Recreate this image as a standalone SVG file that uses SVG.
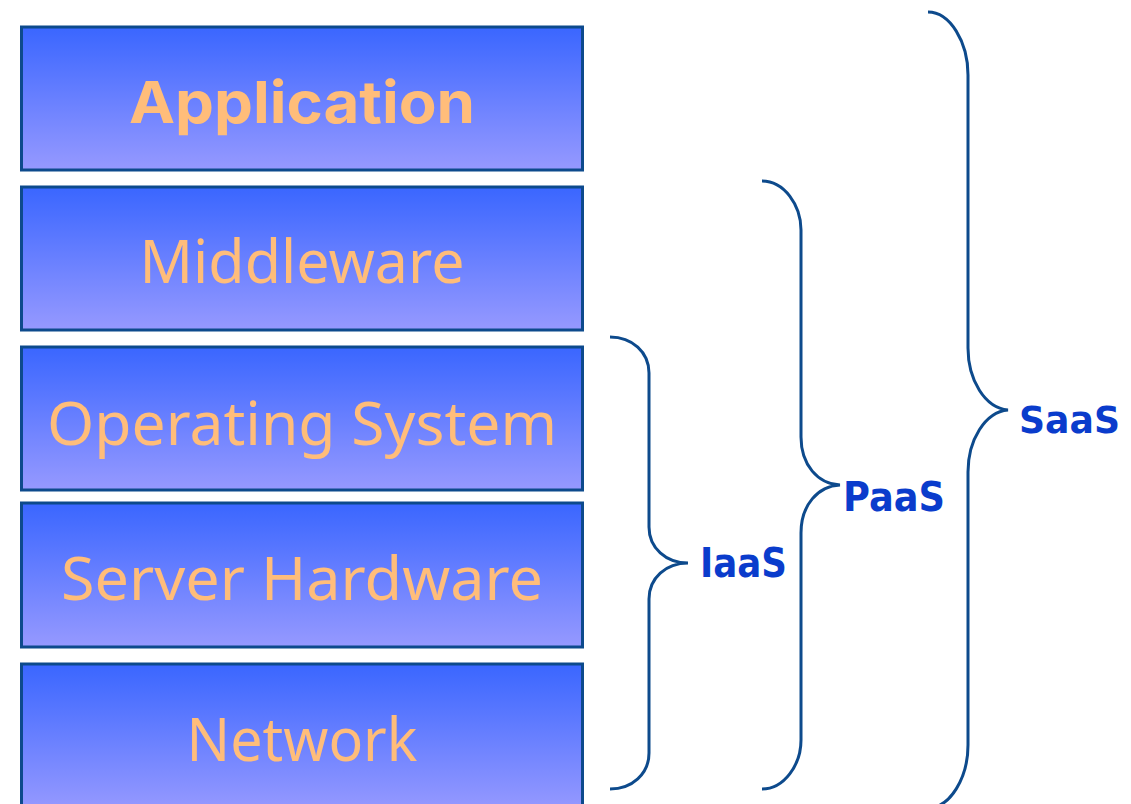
<svg xmlns="http://www.w3.org/2000/svg" width="1131" height="804" viewBox="0 0 1131 804">
<defs>
<linearGradient id="g" x1="0" y1="0" x2="0" y2="1">
<stop offset="0" stop-color="#3a66ff"/>
<stop offset="1" stop-color="#9699ff"/>
</linearGradient>
<style>
.box{fill:url(#g);stroke:#0d4a8c;stroke-width:3}
.t{font-family:"Noto Sans","DejaVu Sans",sans-serif;font-size:60px;fill:#ffbd7a;text-anchor:middle}
.tb{font-family:"Inter","Lato",sans-serif;font-weight:bold;font-size:58px;fill:#ffbd7a;text-anchor:middle}
.br{fill:none;stroke:#0d4a8c;stroke-width:3}
.lb{font-family:"DejaVu Sans",Verdana,sans-serif;font-weight:bold;font-size:40px;fill:#0a3ccc}
</style>
</defs>
<rect width="1131" height="804" fill="#ffffff"/>
<g id="application"><rect class="box" x="21.5" y="27" width="561" height="143"/><text class="tb" x="302" y="123" textLength="346" lengthAdjust="spacingAndGlyphs">Application</text></g>
<g id="middleware"><rect class="box" x="21.5" y="187" width="561" height="143"/><text class="t" x="302" y="283" textLength="325" lengthAdjust="spacingAndGlyphs">Middleware</text></g>
<g id="os"><rect class="box" x="21.5" y="347" width="561" height="143"/><text class="t" x="302" y="445" textLength="510" lengthAdjust="spacingAndGlyphs">Operating System</text></g>
<g id="hardware"><rect class="box" x="21.5" y="503" width="561" height="144"/><text class="t" x="302" y="600" textLength="482" lengthAdjust="spacingAndGlyphs">Server Hardware</text></g>
<g id="network"><rect class="box" x="21.5" y="664" width="561" height="146"/><text class="t" x="302" y="761" textLength="231" lengthAdjust="spacingAndGlyphs">Network</text></g>
<g id="connectors">
<path class="br" d="M610,337 C632,337 649,352 649,373 L649,527 C649,548 666,563 688,563 C666,563 649,578 649,599 L649,753 C649,774 632,789 610,789"/>
<path class="br" d="M762,181 C784,181 801,205 801,230 L801,437 C801,465 818,484 840,485 C818,486 801,505 801,533 L801,740 C801,765 784,789 762,789"/>
<path class="br" d="M928,12 C950,12 968,42 968,75 L968,348 C968,380 985,408 1008,410 C985,412 968,440 968,472 L968,745 C968,778 950,808 928,808"/>
</g>
<g id="iaas"><text class="lb" x="700" y="577" textLength="87" lengthAdjust="spacingAndGlyphs">IaaS</text></g>
<g id="paas"><text class="lb" x="843" y="511" textLength="102" lengthAdjust="spacingAndGlyphs">PaaS</text></g>
<g id="saas"><text class="lb" x="1019" y="433" style="font-size:38px" textLength="101" lengthAdjust="spacingAndGlyphs">SaaS</text></g>
</svg>
